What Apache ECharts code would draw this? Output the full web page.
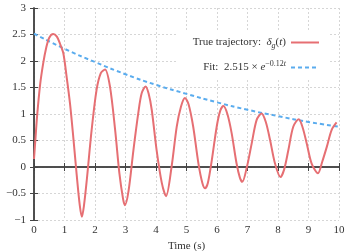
<!DOCTYPE html>
<html>
<head>
<meta charset="utf-8">
<script src="https://cdn.jsdelivr.net/npm/echarts@6/dist/echarts.min.js"></script>
<style>html,body{margin:0;padding:0;background:#fff}#c{width:355px;height:251px}</style>
</head>
<body>
<div id="c"></div>
<script>
// Data
var trajT = [0, 0.05, 0.1, 0.2, 0.3, 0.4, 0.5, 0.63, 0.75, 0.85, 0.96, 1.07, 1.18, 1.29, 1.4, 1.5, 1.57, 1.64, 1.73, 1.89, 2.05, 2.19, 2.33, 2.49, 2.66, 2.80, 2.92, 2.98, 3.1, 3.26, 3.42, 3.53, 3.66, 3.76, 3.86, 4.02, 4.19, 4.33, 4.51, 4.68, 4.82, 4.95, 5.07, 5.22, 5.39, 5.52, 5.61, 5.70, 5.83, 5.99, 6.1, 6.21, 6.34, 6.48, 6.64, 6.75, 6.83, 6.98, 7.14, 7.30, 7.46, 7.6, 7.74, 7.90, 8.08, 8.2, 8.34, 8.50, 8.68, 8.8, 8.94, 9.10, 9.31, 9.45, 9.60, 9.76, 9.92];
var trajY = [0.15, 0.55, 0.95, 1.55, 1.95, 2.25, 2.44, 2.51, 2.46, 2.33, 2.15, 1.7, 1.2, 0.55, -0.15, -0.72, -0.94, -0.72, -0.25, 0.70, 1.45, 1.77, 1.84, 1.52, 0.70, -0.12, -0.6, -0.72, -0.45, 0.32, 1.02, 1.39, 1.52, 1.38, 1.08, 0.32, -0.30, -0.55, 0.0, 0.76, 1.14, 1.30, 1.18, 0.76, 0.07, -0.3, -0.40, -0.3, 0.13, 0.76, 1.05, 1.15, 1.0, 0.64, 0.07, -0.2, -0.28, 0.0, 0.45, 0.89, 1.01, 0.85, 0.51, 0.07, -0.19, -0.05, 0.32, 0.76, 0.90, 0.76, 0.45, 0.07, -0.12, 0.1, 0.38, 0.70, 0.84];
var fitT = [0, 1, 2, 3, 4, 5, 6, 7, 8, 9, 10];
var fitY = [2.515, 2.23, 1.98, 1.75, 1.55, 1.38, 1.22, 1.08, 0.96, 0.85, 0.76];
var seriesNames = ['True trajectory', 'Fit'];
var xLabel = 'Time (s)';

var FONT = 'Liberation Serif';
function zip(a, b) { return a.map(function (v, i) { return [v, b[i]]; }); }
function minus(v) { return String(v).replace('-', '\u2212'); }

var chart = echarts.init(document.getElementById('c'), null, { renderer: 'canvas' });
var axisLine = { show: true, lineStyle: { color: '#444', width: 1.5 } };
var tick = { show: true, inside: true, length: 4, lineStyle: { color: '#444', width: 1 } };
var grid = { show: true, lineStyle: { color: '#d6d6d6', type: [2, 2], width: 1 } };

chart.setOption({
  animation: false,
  backgroundColor: '#fff',
  grid: { left: 34, right: 16, top: 8, bottom: 31, containLabel: false, outerBoundsMode: 'none' },
  xAxis: [{
    type: 'value', min: 0, max: 10, interval: 1, position: 'bottom',
    axisLine: axisLine, axisTick: tick, splitLine: grid,
    axisLabel: { fontFamily: FONT, fontSize: 11, color: '#333', margin: 5 },
    name: xLabel, nameLocation: 'middle', nameGap: 18,
    nameTextStyle: { fontFamily: FONT, fontSize: 11, color: '#333' }
  }, {
    type: 'value', min: 0, max: 10, interval: 1, position: 'top',
    axisLine: axisLine, axisTick: tick, splitLine: { show: false }, axisLabel: { show: false }
  }],
  yAxis: [{
    type: 'value', min: -1, max: 3, interval: 0.5, position: 'left',
    axisLine: axisLine, axisTick: tick, splitLine: grid,
    axisLabel: { fontFamily: FONT, fontSize: 11, color: '#333', margin: 8, formatter: minus }
  }, {
    type: 'value', min: -1, max: 3, interval: 0.5, position: 'right',
    axisLine: axisLine, axisTick: tick, splitLine: { show: false }, axisLabel: { show: false }
  }],
  legend: {
    orient: 'vertical', right: 27, top: 31, align: 'right',
    itemWidth: 28, itemHeight: 10, itemGap: 10,
    backgroundColor: '#fff', padding: [6, 8, 6, 16],
    itemStyle: { color: 'rgba(0,0,0,0)', borderColor: 'rgba(0,0,0,0)', borderWidth: 0 },
    data: seriesNames,
    formatter: function (name) {
      if (name === seriesNames[0]) return '{n|True trajectory:  }{i|\u03b4}{sub|g}{n|(}{i|t}{n|)}';
      return '{n|Fit:  2.515 \u00d7 }{i|e}{sup|\u22120.12}{supi|t}';
    },
    textStyle: {
      fontFamily: FONT, fontSize: 11, color: '#333',
      rich: {
        n: { fontFamily: FONT, fontSize: 11, color: '#333', lineHeight: 15 },
        i: { fontFamily: FONT, fontSize: 11, color: '#333', fontStyle: 'italic', lineHeight: 15 },
        sub: { fontFamily: FONT, fontSize: 8, color: '#333', fontStyle: 'italic', verticalAlign: 'bottom', lineHeight: 15 },
        sup: { fontFamily: FONT, fontSize: 8, color: '#333', verticalAlign: 'top', lineHeight: 15 },
        supi: { fontFamily: FONT, fontSize: 8, color: '#333', fontStyle: 'italic', verticalAlign: 'top', lineHeight: 15 }
      }
    }
  },
  series: [{
    name: seriesNames[0], type: 'line', data: zip(trajT, trajY),
    showSymbol: false, symbol: 'none', smooth: 0.3,
    lineStyle: { color: '#e66f73', width: 2 }, itemStyle: { color: '#e66f73' }, z: 3
  }, {
    name: seriesNames[1], type: 'line', data: zip(fitT, fitY),
    showSymbol: false, symbol: 'none', smooth: true,
    lineStyle: { color: '#5aacee', width: 2, type: [4, 3] }, itemStyle: { color: '#5aacee' }, z: 2
  }]
});
</script>
</body>
</html>
